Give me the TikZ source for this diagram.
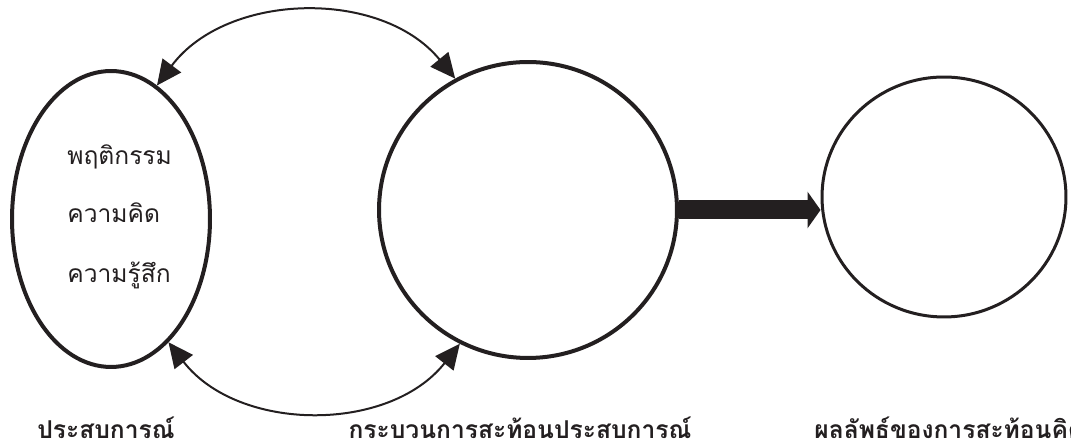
\documentclass[tikz,border=0pt]{standalone}
\usepackage{fontspec}
\newfontfamily\thaifont[Script=Thai]{Loma}
\usepackage{tikz}
\usetikzlibrary{positioning, arrows.meta, shapes.geometric}
\definecolor{inkBlack}{HTML}{231F20}
\tikzset{
  stagebubble/.style={ellipse, draw=inkBlack, line width=0.08cm, inner sep=0pt},
  resultbubble/.style={stagebubble, line width=0.06cm},
  looparrow/.style={{Triangle[length=0.5cm, width=0.46cm]}-{Triangle[length=0.5cm, width=0.46cm]},
    line width=0.04cm, draw=inkBlack},
  flowarrow/.style={-{Triangle[length=0.26cm, width=0.72cm]}, line width=0.38cm, draw=inkBlack},
  itemtext/.style={anchor=west, inner sep=0pt, text=inkBlack, font=\thaifont\fontsize{14}{16}\selectfont},
  stagelabel/.style={anchor=base, inner sep=0pt, text depth=0pt, text=inkBlack,
    font=\thaifont\bfseries\fontsize{14}{16}\selectfont},
}

\begin{document}
\begin{tikzpicture}[x=0.02cm, y=0.02cm]
  \useasboundingbox (0,0) rectangle (1071,445);
  % the three stages
  \node[stagebubble, minimum width=3.96cm, minimum height=5.92cm] (exp) at (111,226) {};
  \node[stagebubble, minimum width=5.96cm, minimum height=5.92cm] (mid) at (528,235) {};
  \node[resultbubble, minimum width=4.88cm, minimum height=4.8cm] (res) at (944,248) {};
  % what goes into an experience
  \node[itemtext] (behave) at (67,288) {พฤติกรรม};
  \node[itemtext] (thought) at (67,232) {ความคิด};
  \node[itemtext] (feel) at (67,170) {ความรู้สึก};
  % loops between experience and reflection
  \draw[looparrow] (exp.71) to[bend left=52] (mid.119);
  \draw[looparrow] (exp.295) to[bend right=52] (mid.243);
  \draw[flowarrow] (mid.east) -- (mid.east -| res.west);
  % captions
  \node[stagelabel] (expcap) at (106,6) {ประสบการณ์};
  \node[stagelabel] (midcap) at (520,6) {กระบวนการสะท้อนประสบการณ์};
  \node[stagelabel, anchor=base west] (rescap) at (814,6) {ผลลัพธ์ของการสะท้อนคิด};
\end{tikzpicture}
\end{document}
